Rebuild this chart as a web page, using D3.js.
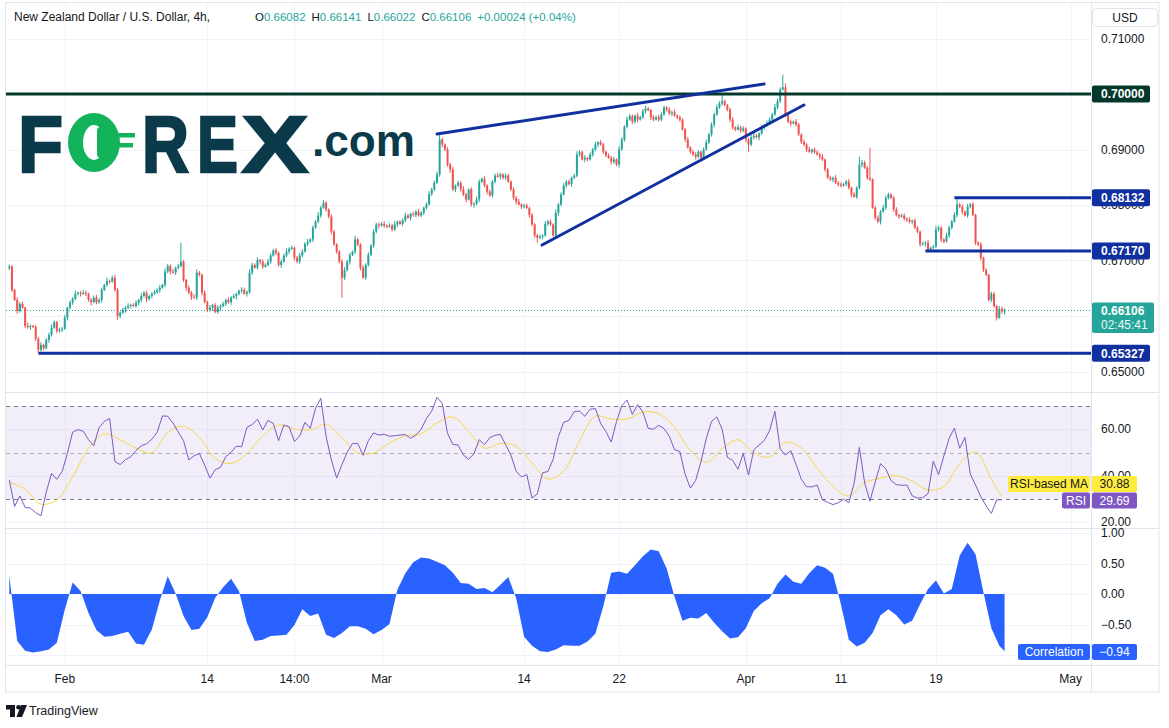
<!DOCTYPE html>
<html><head><meta charset="utf-8">
<script src="https://cdn.jsdelivr.net/npm/d3@7"></script>
<style>
html,body{margin:0;padding:0;background:#fff;}
svg{display:block;font-family:"Liberation Sans",Arial,sans-serif;}
</style></head><body>
<svg id="c" width="1169" height="728"></svg>
<script>
// ---------------- DATA ----------------
const firstOpen = 0.6686;
const closes = [
.6689,.6647,.6629,.6609,.6622,.6615,.6582,.6580,.6582,.6580,.6559,.6539,.6548,.6542,.6557,.6566,.6579,.6589,.6573,.6575,
.6577,.6597,.6615,.6624,.6631,.6640,.6642,.6640,.6642,.6640,.6629,.6625,.6633,.6625,.6629,.6647,.6656,.6663,.6662,.6669,
.6647,.6600,.6606,.6611,.6615,.6618,.6620,.6618,.6624,.6629,.6636,.6642,.6631,.6636,.6640,.6643,.6647,.6651,.6656,.6680,
.6690,.6680,.6678,.6687,.6690,.6698,.6665,.6651,.6642,.6634,.6633,.6678,.6674,.6642,.6625,.6611,.6615,.6620,.6607,.6615,
.6618,.6622,.6629,.6625,.6633,.6636,.6640,.6645,.6647,.6640,.6643,.6678,.6692,.6687,.6701,.6698,.6689,.6692,.6698,.6709,
.6718,.6714,.6692,.6698,.6709,.6716,.6721,.6723,.6705,.6698,.6709,.6716,.6730,.6734,.6738,.6759,.6770,.6781,.6795,.6804,
.6792,.6779,.6752,.6729,.6716,.6698,.6669,.6683,.6698,.6710,.6716,.6738,.6729,.6687,.6669,.6692,.6710,.6727,.6752,.6765,
.6763,.6766,.6763,.6761,.6763,.6756,.6765,.6770,.6766,.6772,.6781,.6777,.6784,.6782,.6788,.6781,.6786,.6795,.6801,.6820,
.6828,.6840,.6855,.6918,.6909,.6900,.6873,.6864,.6828,.6835,.6840,.6828,.6819,.6810,.6828,.6801,.6802,.6810,.6842,.6847,
.6835,.6824,.6817,.6842,.6853,.6851,.6855,.6849,.6853,.6842,.6828,.6813,.6806,.6801,.6797,.6799,.6795,.6782,.6765,.6745,
.6741,.6743,.6745,.6766,.6770,.6765,.6745,.6786,.6801,.6819,.6835,.6842,.6838,.6849,.6853,.6891,.6895,.6882,.6885,.6882,
.6891,.6900,.6909,.6913,.6909,.6896,.6889,.6885,.6878,.6882,.6873,.6900,.6918,.6941,.6954,.6960,.6950,.6961,.6954,.6958,
.6969,.6974,.6971,.6958,.6954,.6958,.6954,.6963,.6976,.6972,.6965,.6967,.6961,.6958,.6954,.6936,.6918,.6904,.6896,.6891,
.6887,.6896,.6885,.6900,.6913,.6927,.6945,.6963,.6976,.6983,.6987,.6980,.6972,.6954,.6940,.6936,.6940,.6934,.6938,.6918,
.6909,.6922,.6925,.6922,.6929,.6940,.6943,.6947,.6954,.6963,.6976,.6987,.7008,.7012,.6963,.6950,.6947,.6950,.6945,.6927,
.6914,.6909,.6900,.6896,.6900,.6895,.6891,.6887,.6882,.6864,.6849,.6846,.6849,.6840,.6837,.6835,.6838,.6842,.6831,.6819,
.6815,.6831,.6873,.6876,.6867,.6849,.6846,.6795,.6777,.6770,.6788,.6795,.6813,.6819,.6813,.6792,.6782,.6779,.6781,.6775,
.6773,.6770,.6772,.6759,.6752,.6729,.6730,.6732,.6719,.6723,.6725,.6756,.6759,.6738,.6734,.6745,.6759,.6770,.6782,.6801,
.6797,.6788,.6781,.6797,.6801,.6782,.6732,.6729,.6705,.6683,.6674,.6629,.6640,.6618,.6597,.6613,.66082,.66106];
// upper / lower wick lengths in pips
const wickUp = [
4,3,2,5,3,4,2,6,3,2,4,3,5,2,3,4,6,3,2,4, 3,5,2,4,3,6,2,3,5,4,2,3,4,5,3,4,2,6,3,4,
5,3,2,4,3,5,2,3,4,2,5,3,4,2,3,4,3,5,2,6, 4,3,5,2,4,34,3,2,4,3,5,6,3,2,4,3,5,2,3,4,
3,4,2,5,3,4,2,3,5,4,3,6,4,3,5,2,4,3,5,4, 3,5,2,4,3,6,3,4,2,3,5,4,3,5,2,4,3,6,4,5,
3,2,4,3,2,3,4,5,3,4,2,6,3,2,4,3,5,2,4,3, 4,3,5,2,4,3,6,2,3,4,5,3,2,4,3,5,3,2,4,5,
3,4,5,9,3,2,4,3,5,2,4,3,6,3,2,4,3,5,4,3, 5,2,4,3,4,5,3,2,4,3,2,4,3,5,2,3,4,2,3,2,
3,4,2,5,3,4,2,6,3,4,5,3,4,2,3,6,4,3,5,2, 4,3,5,2,4,3,2,4,3,5,2,6,4,3,5,4,3,2,5,3,
4,5,3,2,4,3,5,4,3,2,4,3,5,2,3,2,3,4,2,3, 4,3,2,4,5,3,4,3,5,4,11,3,2,3,4,2,5,3,4,2,
3,4,5,3,2,4,3,5,4,3,6,5,4,23,7,3,4,2,5,3, 2,4,3,5,2,3,4,3,5,2,3,4,2,5,3,4,2,3,5,2,
4,3,14,5,4,3,54,2,3,4,3,5,4,3,2,3,4,2,3,4, 3,5,2,4,3,2,4,3,5,2,3,6,4,3,2,5,4,3,5,14,
3,4,2,5,3,4,2,3,4,2,3,2,4,3,2,5,4,3.5];
const wickDn = [
3,4,2,5,3,2,4,3,5,2,4,6,3,4,2,5,3,2,4,3, 4,2,5,3,4,2,3,5,2,4,3,6,2,4,3,5,2,3,4,2,
3,7,4,2,5,3,4,2,3,5,4,2,6,3,4,2,3,5,2,4, 3,5,2,4,3,2,4,6,3,5,2,4,3,5,2,4,3,6,2,3,
5,2,4,3,5,2,6,3,4,2,5,3,4,2,3,5,4,2,3,4, 2,4,3,5,2,3,4,2,5,3,4,3,2,4,3,5,2,3,4,2,
4,3,5,2,4,3,36,4,3,5,2,4,3,5,2,4,3,2,4,3, 5,2,4,3,2,4,3,5,2,4,3,2,5,3,4,2,3,4,3,2,
4,3,2,4,5,3,4,6,3,5,2,4,3,5,2,4,6,3,5,2, 3,5,2,4,3,2,5,3,4,2,3,4,5,2,4,3,2,5,3,4,
9,3,5,2,4,3,2,4,5,3,2,4,3,5,2,3,4,2,5,3, 2,4,3,5,2,4,3,2,5,4,3,5,2,4,3,2,4,3,5,2,
3,4,2,5,3,2,4,3,2,4,3,5,2,3,4,2,5,3,4,3, 5,3,7,4,2,3,4,5,2,3,4,2,3,5,4,3,2,4,3,5,
13,3,4,2,5,3,4,2,3,5,2,4,3,2,4,3,5,2,4,3, 4,3,5,2,4,3,2,5,3,4,2,3,5,2,4,3,2,4,3,5,
2,4,3,5,2,4,3,2,4,3,5,2,4,3,2,5,3,4,2,3, 4,3,5,2,3,4,2,5,3,4,3,2,4,5,3,2,4,3,2,4,
3,5,2,4,3,2,4,3,5,4,2,3,4,3,5,2,4,6];
// RSI(14), one value every 2 bars
const rsiStep = 2;
const rsi = [
38.2,26.8,31.3,26.4,26.1,24.1,22.8,33.0,41.0,38.5, 41.8,49.6,58.8,59.8,59.2,55.5,52.9,60.7,63.4,64.6,
46.1,44.8,46.9,48.2,50.9,52.9,53.8,55.7,58.7,65.7, 65.6,62.7,58.8,55.1,46.8,48.6,49.6,44.5,39.0,42.6,
43.6,48.2,50.1,52.7,52.5,60.8,62.0,64.3,59.7,63.8, 62.5,55.1,61.8,61.1,54.7,57.1,63.0,60.4,69.0,73.3,
56.8,46.8,39.0,44.8,50.1,53.9,53.9,48.8,55.1,58.4, 57.5,57.8,57.0,57.2,57.5,57.7,56.1,57.5,60.0,64.6,
67.8,73.7,71.1,58.2,53.5,53.2,48.9,47.1,49.4,55.5, 53.4,56.4,57.4,57.8,53.4,48.9,41.9,39.5,40.5,30.4,
32.2,41.3,41.8,47.1,56.8,63.0,63.8,67.6,67.8,65.6, 68.6,68.9,62.5,59.0,54.5,63.3,70.1,72.6,66.4,70.6,
67.4,60.4,60.0,61.7,60.3,57.0,51.2,50.4,40.6,34.7, 38.0,46.1,56.0,63.4,65.3,60.1,47.9,46.6,42.8,49.6,
40.3,51.1,53.2,55.2,59.5,67.7,51.5,48.9,50.8,44.9, 38.5,35.3,35.2,36.0,29.6,28.6,27.6,28.4,29.9,28.4,
36.7,52.2,36.9,29.1,37.3,45.2,43.0,37.9,36.2,35.9, 36.0,31.4,30.4,30.6,32.3,46.3,40.5,48.5,56.1,60.5,
51.8,56.5,40.8,36.0,31.0,27.1,23.8,29.6,29.69];
// RSI-based MA, sampled at these bars
const maBars = [0,6,12,18,24,30,36,42,48,54,60,66,72,78,84,90,96,102,108,114,120,126,132,138,144,150,156,162,168,174,
180,186,192,198,204,210,216,222,228,234,240,246,252,258,264,270,276,282,288,294,300,306,312,318,324,330,336,342,348,354,
360,366,372,376];
const maVals = [37.2,34.2,27.8,29.6,39.6,51.8,58.0,55.5,51.9,49.9, 58.5,61.3,56.5,47.5,45.3,49.5,57.2,61.8,60.1,59.7,
62.1,56.4,49.9,49.8,54.2,57.2,58.0,62.7,65.3,59.0, 51.9,53.9,52.7,45.5,38.6,42.0,55.1,65.6,64.4,64.4,
67.4,66.7,60.8,50.9,45.8,51.6,55.5,49.8,48.1,54.4, 51.9,43.3,35.4,31.3,37.0,38.9,40.0,37.7,33.9,35.4,
45.2,50.4,38.5,30.88];
// Correlation, one value every 3 bars (last = final bar 377)
const corrStep = 3;
const corr = [
0.30,-0.77,-0.93,-0.96,-0.94,-0.91,-0.80,-0.26,0.19,0.05, -0.31,-0.59,-0.70,-0.69,-0.65,-0.62,-0.81,-0.83,-0.58,-0.11,
0.29,0.01,-0.36,-0.59,-0.57,-0.38,-0.06,0.11,0.25,0.05, -0.47,-0.77,-0.75,-0.69,-0.68,-0.67,-0.51,-0.25,-0.36,-0.32,
-0.67,-0.72,-0.64,-0.53,-0.53,-0.57,-0.66,-0.59,-0.49,0.07, 0.34,0.52,0.60,0.58,0.53,0.47,0.35,0.18,0.17,0.08,
0.10,0.03,0.15,0.28,-0.07,-0.70,-0.85,-0.94,-0.95,-0.91, -0.84,-0.85,-0.85,-0.78,-0.65,-0.20,0.35,0.37,0.33,0.47,
0.62,0.73,0.70,0.42,-0.05,-0.44,-0.39,-0.40,-0.31,-0.47, -0.61,-0.73,-0.71,-0.56,-0.28,-0.15,-0.07,0.17,0.32,0.20,
0.17,0.34,0.47,0.43,0.33,-0.17,-0.75,-0.86,-0.80,-0.64, -0.35,-0.25,-0.35,-0.50,-0.44,-0.17,0.08,0.22,0.01,0.08,
0.63,0.84,0.65,0.03,-0.56,-0.85,-0.94];
// time axis
const timeTickBars = [21,75,108,141,195,231,279,315,351,402];
const timeTickLabels = ["Feb","14","14:00","Mar","14","22","Apr","11","19","May"];
// value axes (grid values; labels hidden under flags are listed separately)
const priceTicks = [0.65,0.66,0.67,0.68,0.69,0.70,0.71];
const priceLabelTicks = [0.65,0.67,0.68,0.69,0.71];
const rsiTicks = [20,40,60];
const corrTicks = [-1,-0.5,0,0.5,1];
const corrLabelTicks = [-0.5,0,0.5,1];
// drawings
const trendBars0 = [162, 201.8], trendP0 = [0.69279, 0.67279];
const trendBars1 = [285.9, 301.0], trendP1 = [0.70180, 0.69802];
const levelPrices = [0.70, 0.68132, 0.6717, 0.65327];
const levelStartBars = [-4, 358, 347, 11];
const lastPrice = 0.66106;
const countdown = "02:45:41";
const ohlcKeys = ["O","H","L","C"];
const ohlc = ["0.66082","0.66141","0.66022","0.66106"];
const changeText = "+0.00024 (+0.04%)";

// ---------------- LAYOUT ----------------
const svg = d3.select("#c");
const L = 6, R = 1091, AX = 1101;
const mainTop = 3, sep1 = 392, sep2 = 528, sep3 = 665, timeBottom = 692;
const UP = "#26a69a", DOWN = "#ef5350", GRID = "#f0f3fa", BORDER = "#e0e3eb", TXT = "#131722";
const DARKG = "#04382c", BLUE = "#10309f";

const x = d3.scaleLinear().domain([0, 377]).range([9.3, 9.3 + 2.64 * 377]);
const yP = d3.scaleLinear().domain([0.65, 0.71]).range([371.5, 38.5]);
const yR = d3.scaleLinear().domain([30, 70]).range([499, 406]);
const yC = d3.scaleLinear().domain([-1, 1]).range([655, 533]);

svg.append("rect").attr("width", 1169).attr("height", 728).attr("fill", "#fff");

const defs = svg.append("defs");
[["cMain", mainTop, sep1], ["cRsi", sep1, sep2], ["cCorr", sep2, sep3]].forEach(([id, t, b]) => {
  defs.append("clipPath").attr("id", id).append("rect").attr("x", L).attr("y", t).attr("width", R - L).attr("height", b - t);
});

// grids
const g = svg.append("g");
timeTickBars.forEach(b => {
  g.append("line").attr("x1", Math.round(x(b)) + 0.5).attr("x2", Math.round(x(b)) + 0.5)
    .attr("y1", mainTop).attr("y2", sep3).attr("stroke", GRID).attr("stroke-width", 1);
});
priceTicks.forEach(p => g.append("line").attr("x1", L).attr("x2", R).attr("y1", Math.round(yP(p)) + 0.5).attr("y2", Math.round(yP(p)) + 0.5).attr("stroke", GRID));
rsiTicks.forEach(v => g.append("line").attr("x1", L).attr("x2", R).attr("y1", Math.round(yR(v)) + 0.5).attr("y2", Math.round(yR(v)) + 0.5).attr("stroke", GRID));
corrTicks.forEach(v => g.append("line").attr("x1", L).attr("x2", R).attr("y1", Math.round(yC(v)) + 0.5).attr("y2", Math.round(yC(v)) + 0.5).attr("stroke", GRID));

// ---------- FOREX.com logo ----------
const logo = svg.append("g");
const LOGO_DARK = "#0b3b4b", LOGO_GREEN = "#12b35b";
const letters = [["F", 18, 45], ["R", 142, 47], ["E", 197, 41], ["X", 242, 66]];
letters.forEach(([t, lx, lw]) => {
  logo.append("text").attr("x", lx).attr("y", 172).text(t)
    .attr("font-family", "'Liberation Sans',Arial,sans-serif").attr("font-weight", "bold").attr("font-size", 80)
    .attr("textLength", lw).attr("lengthAdjust", "spacingAndGlyphs")
    .attr("fill", LOGO_DARK).attr("stroke", LOGO_DARK).attr("stroke-width", 2.5);
});
// the green "0" mark
logo.append("ellipse").attr("cx", 94).attr("cy", 142.5).attr("rx", 26).attr("ry", 29.5).attr("fill", LOGO_GREEN);
logo.append("ellipse").attr("cx", 94).attr("cy", 142.5).attr("rx", 11).attr("ry", 17.5).attr("fill", "#fff");
logo.append("rect").attr("x", 97).attr("y", 127).attr("width", 8).attr("height", 31).attr("rx", 4).attr("fill", LOGO_GREEN);
logo.append("rect").attr("x", 100).attr("y", 133).attr("width", 35).attr("height", 4.5).attr("fill", LOGO_GREEN);
logo.append("rect").attr("x", 100).attr("y", 143).attr("width", 33).attr("height", 4.5).attr("fill", LOGO_GREEN);
logo.append("text").attr("x", 312).attr("y", 156).text(".com")
  .attr("font-family", "'Liberation Sans',Arial,sans-serif").attr("font-weight", "bold").attr("font-size", 44)
  .attr("textLength", 103).attr("lengthAdjust", "spacingAndGlyphs").attr("fill", LOGO_DARK);

// ---------- main pane ----------
const mainG = svg.append("g").attr("clip-path", "url(#cMain)");
const bars = closes.map((c, i) => {
  const o = i === 0 ? firstOpen : closes[i - 1];
  return { i, o, c, h: Math.max(o, c) + wickUp[i] * 1e-4, l: Math.min(o, c) - wickDn[i] * 1e-4 };
});
mainG.append("line").attr("x1", L).attr("x2", R).attr("y1", Math.round(yP(lastPrice)) + 0.5).attr("y2", Math.round(yP(lastPrice)) + 0.5)
  .attr("stroke", UP).attr("stroke-width", 1).attr("stroke-dasharray", "1,2");
mainG.selectAll("line.wick").data(bars).join("line").attr("class", "wick")
  .attr("x1", d => x(d.i)).attr("x2", d => x(d.i)).attr("y1", d => yP(d.h)).attr("y2", d => yP(d.l))
  .attr("stroke", d => d.c >= d.o ? UP : DOWN).attr("stroke-width", 1);
mainG.selectAll("rect.body").data(bars).join("rect").attr("class", "body")
  .attr("x", d => x(d.i) - 1).attr("width", 2)
  .attr("y", d => yP(Math.max(d.o, d.c)))
  .attr("height", d => Math.max(0.8, yP(Math.min(d.o, d.c)) - yP(Math.max(d.o, d.c))))
  .attr("fill", d => d.c >= d.o ? UP : DOWN);
levelPrices.forEach((p, k) => {
  mainG.append("line").attr("x1", Math.max(L, x(levelStartBars[k]))).attr("x2", R).attr("y1", yP(p)).attr("y2", yP(p))
    .attr("stroke", k === 0 ? DARKG : BLUE).attr("stroke-width", 3);
});
[0, 1].forEach(k => {
  mainG.append("line").attr("x1", x(trendBars0[k])).attr("y1", yP(trendP0[k]))
    .attr("x2", x(trendBars1[k])).attr("y2", yP(trendP1[k]))
    .attr("stroke", BLUE).attr("stroke-width", 3).attr("stroke-linecap", "round");
});

// ---------- RSI pane ----------
const rsiG = svg.append("g").attr("clip-path", "url(#cRsi)");
rsiG.append("rect").attr("x", L).attr("width", R - L).attr("y", yR(70)).attr("height", yR(30) - yR(70)).attr("fill", "rgba(126,87,194,0.1)");
[[70, "#787b86"], [50, "rgba(120,123,134,0.55)"], [30, "#787b86"]].forEach(([v, c]) => {
  rsiG.append("line").attr("x1", L).attr("x2", R).attr("y1", Math.round(yR(v)) + 0.5).attr("y2", Math.round(yR(v)) + 0.5)
    .attr("stroke", c).attr("stroke-dasharray", "4,4");
});
rsiG.append("path").datum(maVals).attr("fill", "none").attr("stroke", "#f7d84c").attr("stroke-width", 1)
  .attr("d", d3.line().x((d, k) => x(maBars[k])).y(d => yR(d)).curve(d3.curveCatmullRom));
rsiG.append("path").datum(rsi).attr("fill", "none").attr("stroke", "#7e57c2").attr("stroke-width", 1)
  .attr("d", d3.line().x((d, k) => x(k * rsiStep)).y(d => yR(d)));

// ---------- Correlation pane ----------
const corrG = svg.append("g").attr("clip-path", "url(#cCorr)");
const corrBar = k => (k === corr.length - 1 ? 377 : k * corrStep);
corrG.append("path").datum(corr).attr("fill", "#2962ff")
  .attr("d", d3.area().x((d, k) => x(corrBar(k))).y0(yC(0)).y1(d => yC(d)));

// ---------- frame & separators ----------
const fr = svg.append("g");
[sep1, sep2, sep3].forEach(yy => fr.append("line").attr("x1", L).attr("x2", 1159).attr("y1", yy + 0.5).attr("y2", yy + 0.5).attr("stroke", BORDER));
fr.append("line").attr("x1", R + 0.5).attr("x2", R + 0.5).attr("y1", mainTop).attr("y2", timeBottom).attr("stroke", BORDER);
fr.append("rect").attr("x", L - 0.5).attr("y", mainTop - 0.5).attr("width", 1159 - L + 0.5).attr("height", timeBottom - mainTop + 0.5)
  .attr("fill", "none").attr("stroke", BORDER);

// ---------- axis labels ----------
const ax = svg.append("g").attr("font-size", 12).attr("fill", TXT);
priceLabelTicks.forEach(p => ax.append("text").attr("x", AX).attr("y", yP(p)).attr("dy", "0.35em").text(p.toFixed(5)));
rsiTicks.forEach(v => ax.append("text").attr("x", AX).attr("y", yR(v)).attr("dy", "0.35em").text(v.toFixed(2)));
corrLabelTicks.forEach(v => ax.append("text").attr("x", AX).attr("y", yC(v)).attr("dy", "0.35em").text((v < 0 ? "\u2212" : "") + Math.abs(v).toFixed(2)));
timeTickBars.forEach((b, k) => ax.append("text").attr("x", x(b)).attr("y", 679).attr("dy", "0.35em").attr("text-anchor", "middle").text(timeTickLabels[k]));

// USD box
svg.append("rect").attr("x", 1092.5).attr("y", 8.5).attr("width", 65).attr("height", 18).attr("rx", 4)
  .attr("fill", "#fff").attr("stroke", BORDER);
svg.append("text").attr("x", 1125).attr("y", 17.5).attr("dy", "0.35em").attr("text-anchor", "middle").attr("font-size", 12).attr("fill", TXT).text("USD");

// price flags
function flag(yc, txt, bg, fg, x0, w, h) {
  svg.append("rect").attr("x", x0).attr("y", yc - h / 2).attr("width", w).attr("height", h).attr("rx", 2).attr("fill", bg);
  svg.append("text").attr("x", x0 + 9).attr("y", yc).attr("dy", "0.35em").attr("font-size", 12).attr("font-weight", 600).attr("fill", fg).text(txt);
}
levelPrices.forEach((p, k) => flag(yP(p), p.toFixed(5), k === 0 ? DARKG : BLUE, "#fff", 1092, 58, 17));
{
  const yc = yP(lastPrice);
  svg.append("rect").attr("x", 1092).attr("y", yc - 7.5).attr("width", 62).attr("height", 30.5).attr("rx", 2).attr("fill", UP);
  svg.append("text").attr("x", 1101).attr("y", yc + 0.5).attr("dy", "0.35em").attr("font-size", 12).attr("font-weight", 600).attr("fill", "#fff").text(lastPrice.toFixed(5));
  svg.append("text").attr("x", 1101).attr("y", yc + 15).attr("dy", "0.35em").attr("font-size", 12).attr("fill", "#e8fbf8").text(countdown);
}
function pill(x0, x1, yc, txt, bg, fg) {
  svg.append("rect").attr("x", x0).attr("y", yc - 8).attr("width", x1 - x0).attr("height", 16).attr("rx", 2).attr("fill", bg);
  svg.append("text").attr("x", (x0 + x1) / 2).attr("y", yc).attr("dy", "0.35em").attr("text-anchor", "middle")
    .attr("font-size", 12).attr("fill", fg).text(txt);
}
pill(1008, 1090, 484, "RSI-based MA", "#ffeb3b", TXT);
pill(1092, 1137, 484, maVals[maVals.length - 1].toFixed(2), "#ffeb3b", TXT);
pill(1062, 1090, 500.5, "RSI", "#7e57c2", "#fff");
pill(1092, 1137, 500.5, rsi[rsi.length - 1].toFixed(2), "#7e57c2", "#fff");
pill(1018, 1090, 652, "Correlation", "#2962ff", "#fff");
pill(1092, 1137, 652, "\u2212" + Math.abs(corr[corr.length - 1]).toFixed(2), "#2962ff", "#fff");

// ---------- header ----------
svg.append("text").attr("x", 14).attr("y", 20.5).attr("font-size", 12).attr("fill", TXT)
  .text("New Zealand Dollar / U.S. Dollar, 4h,");
let hx = 255;
ohlcKeys.forEach((k, j) => {
  const t = svg.append("text").attr("x", hx).attr("y", 20.5).attr("font-size", 11.5);
  t.append("tspan").attr("fill", TXT).text(k);
  t.append("tspan").attr("fill", UP).text(ohlc[j]);
  hx += t.node().getComputedTextLength() + 6;
});
svg.append("text").attr("x", hx).attr("y", 20.5).attr("font-size", 11.5).attr("fill", UP).text(changeText);

// ---------- TradingView mark ----------
const tv = svg.append("g").attr("fill", TXT);
tv.append("rect").attr("x", 6).attr("y", 705).attr("width", 9).attr("height", 4.5);
tv.append("rect").attr("x", 10).attr("y", 705).attr("width", 5).attr("height", 12);
tv.append("circle").attr("cx", 18.5).attr("cy", 707.3).attr("r", 2.3);
tv.append("path").attr("d", "M21,705 L27,705 L22,717 L16.5,717 Z");
svg.append("text").attr("x", 29).attr("y", 711).attr("dy", "0.35em").attr("font-size", 12.5).attr("fill", TXT).text("TradingView");
</script>
</body></html>
